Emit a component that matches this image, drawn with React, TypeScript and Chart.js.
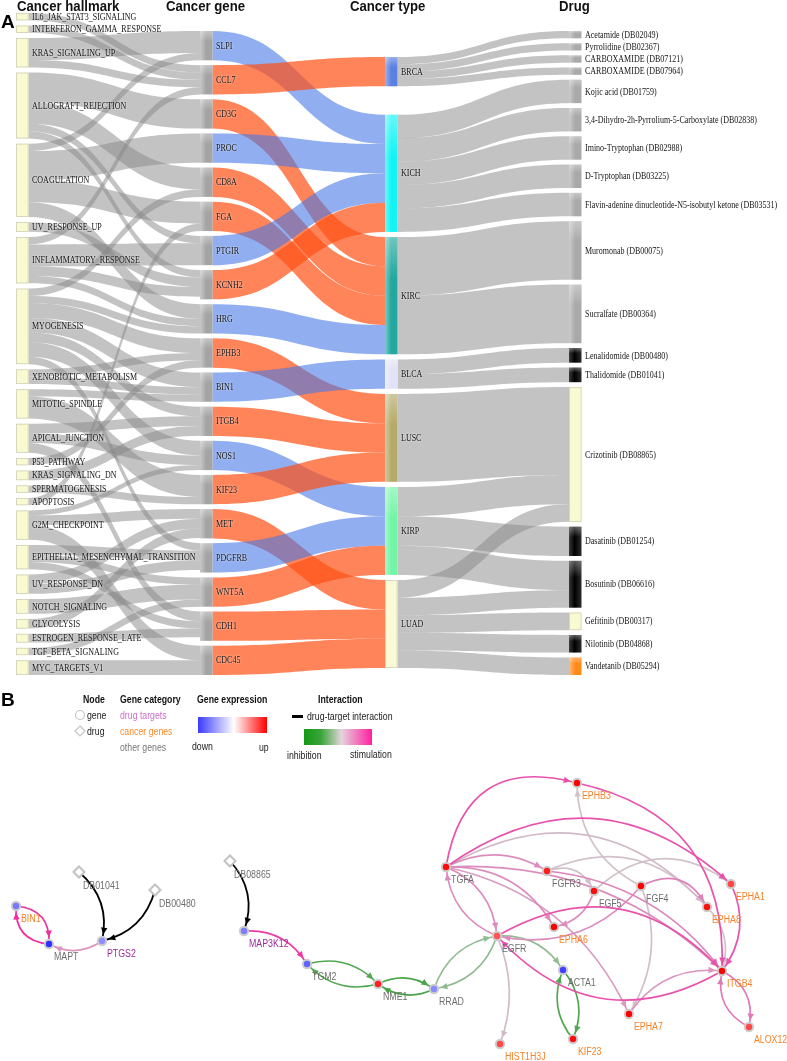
import React, { useEffect, useRef } from 'react';
import { Chart, registerables } from 'chart.js';
Chart.register(...registerables);

const W = 787;
const H = 1061;

// ---------------- Panel A data ----------------
const HALLMARKS = ['IL6_JAK_STAT3_SIGNALING', 'INTERFERON_GAMMA_RESPONSE', 'KRAS_SIGNALING_UP', 'ALLOGRAFT_REJECTION', 'COAGULATION', 'UV_RESPONSE_UP', 'INFLAMMATORY_RESPONSE', 'MYOGENESIS', 'XENOBIOTIC_METABOLISM', 'MITOTIC_SPINDLE', 'APICAL_JUNCTION', 'P53_PATHWAY', 'KRAS_SIGNALING_DN', 'SPERMATOGENESIS', 'APOPTOSIS', 'G2M_CHECKPOINT', 'EPITHELIAL_MESENCHYMAL_TRANSITION', 'UV_RESPONSE_DN', 'NOTCH_SIGNALING', 'GLYCOLYSIS', 'ESTROGEN_RESPONSE_LATE', 'TGF_BETA_SIGNALING', 'MYC_TARGETS_V1'];
const GENES = ['SLPI', 'CCL7', 'CD3G', 'PROC', 'CD8A', 'FGA', 'PTGIR', 'KCNH2', 'HRG', 'EPHB3', 'BIN1', 'ITGB4', 'NOS1', 'KIF23', 'MET', 'PDGFRB', 'WNT5A', 'CDH1', 'CDC45'];
const GENE_REGULATION = ['down', 'up', 'up', 'down', 'up', 'up', 'down', 'up', 'down', 'up', 'down', 'up', 'down', 'up', 'up', 'down', 'up', 'up', 'up'];
const GENE_CANCER_TYPE = ['KICH', 'BRCA', 'KIRC', 'KICH', 'KIRC', 'KIRC', 'KICH', 'KICH', 'KIRC', 'LUSC', 'BLCA', 'LUSC', 'KIRP', 'LUSC', 'LUAD', 'KIRP', 'KIRP', 'LUAD', 'LUAD'];
const CANCER_TYPES = ['BRCA', 'KICH', 'KIRC', 'BLCA', 'LUSC', 'KIRP', 'LUAD'];
const CANCER_TYPE_COLORS = ['#5a80e0', '#12f4f4', '#22a89e', '#e2e2f6', '#b4aa68', '#72f5a6', '#fafad6'];
const DRUGS = ['Acetamide (DB02049)', 'Pyrrolidine (DB02367)', 'CARBOXAMIDE (DB07121)', 'CARBOXAMIDE (DB07964)', 'Kojic acid (DB01759)', '3,4-Dihydro-2h-Pyrrolium-5-Carboxylate (DB02838)', 'Imino-Tryptophan (DB02988)', 'D-Tryptophan (DB03225)', 'Flavin-adenine dinucleotide-N5-isobutyl ketone (DB03531)', 'Muromonab (DB00075)', 'Sucralfate (DB00364)', 'Lenalidomide (DB00480)', 'Thalidomide (DB01041)', 'Crizotinib (DB08865)', 'Dasatinib (DB01254)', 'Bosutinib (DB06616)', 'Gefitinib (DB00317)', 'Nilotinib (DB04868)', 'Vandetanib (DB05294)'];
const DRUG_COLORS = ['#a9a9a9', '#a9a9a9', '#a9a9a9', '#a9a9a9', '#a9a9a9', '#a9a9a9', '#a9a9a9', '#a9a9a9', '#a9a9a9', '#a9a9a9', '#a9a9a9', '#000000', '#000000', '#fafad2', '#000000', '#000000', '#fafad2', '#000000', '#ff8c1a'];

const HALLMARK_GENE_LINKS: [string, string, number][] = [
  ['IL6_JAK_STAT3_SIGNALING', 'CCL7', 0.25],
  ['INTERFERON_GAMMA_RESPONSE', 'CCL7', 0.25],
  ['KRAS_SIGNALING_UP', 'SLPI', 0.75],
  ['KRAS_SIGNALING_UP', 'CCL7', 0.25],
  ['ALLOGRAFT_REJECTION', 'CD3G', 1],
  ['ALLOGRAFT_REJECTION', 'CD8A', 0.75],
  ['ALLOGRAFT_REJECTION', 'PTGIR', 0.25],
  ['ALLOGRAFT_REJECTION', 'KCNH2', 0.25],
  ['COAGULATION', 'SLPI', 0.25],
  ['COAGULATION', 'PROC', 1],
  ['COAGULATION', 'FGA', 0.75],
  ['COAGULATION', 'HRG', 0.5],
  ['UV_RESPONSE_UP', 'KCNH2', 0.33],
  ['INFLAMMATORY_RESPONSE', 'CCL7', 0.25],
  ['INFLAMMATORY_RESPONSE', 'PTGIR', 0.75],
  ['INFLAMMATORY_RESPONSE', 'KCNH2', 0.33],
  ['INFLAMMATORY_RESPONSE', 'HRG', 0.25],
  ['MYOGENESIS', 'CD8A', 0.25],
  ['MYOGENESIS', 'HRG', 0.25],
  ['MYOGENESIS', 'EPHB3', 0.5],
  ['MYOGENESIS', 'BIN1', 0.5],
  ['MYOGENESIS', 'ITGB4', 0.33],
  ['MYOGENESIS', 'NOS1', 0.5],
  ['MYOGENESIS', 'PDGFRB', 0.25],
  ['XENOBIOTIC_METABOLISM', 'EPHB3', 0.25],
  ['XENOBIOTIC_METABOLISM', 'BIN1', 0.25],
  ['MITOTIC_SPINDLE', 'BIN1', 0.25],
  ['MITOTIC_SPINDLE', 'KIF23', 0.75],
  ['APICAL_JUNCTION', 'ITGB4', 0.33],
  ['APICAL_JUNCTION', 'NOS1', 0.33],
  ['APICAL_JUNCTION', 'CDH1', 0.33],
  ['P53_PATHWAY', 'EPHB3', 0.25],
  ['KRAS_SIGNALING_DN', 'ITGB4', 0.33],
  ['SPERMATOGENESIS', 'KIF23', 0.25],
  ['APOPTOSIS', 'FGA', 0.25],
  ['G2M_CHECKPOINT', 'MET', 0.33],
  ['G2M_CHECKPOINT', 'NOS1', 0.17],
  ['G2M_CHECKPOINT', 'CDC45', 0.5],
  ['EPITHELIAL_MESENCHYMAL_TRANSITION', 'PDGFRB', 0.33],
  ['EPITHELIAL_MESENCHYMAL_TRANSITION', 'WNT5A', 0.25],
  ['EPITHELIAL_MESENCHYMAL_TRANSITION', 'CDH1', 0.25],
  ['UV_RESPONSE_DN', 'MET', 0.33],
  ['UV_RESPONSE_DN', 'PDGFRB', 0.33],
  ['NOTCH_SIGNALING', 'WNT5A', 0.5],
  ['GLYCOLYSIS', 'MET', 0.33],
  ['ESTROGEN_RESPONSE_LATE', 'CDH1', 0.3],
  ['TGF_BETA_SIGNALING', 'WNT5A', 0.25],
  ['MYC_TARGETS_V1', 'CDC45', 0.5],
];

const CANCER_DRUG_LINKS: [string, string, number][] = [
  ['BRCA', 'Acetamide (DB02049)', 0.25],
  ['BRCA', 'Pyrrolidine (DB02367)', 0.25],
  ['BRCA', 'CARBOXAMIDE (DB07121)', 0.25],
  ['BRCA', 'CARBOXAMIDE (DB07964)', 0.25],
  ['KICH', 'Kojic acid (DB01759)', 0.8],
  ['KICH', '3,4-Dihydro-2h-Pyrrolium-5-Carboxylate (DB02838)', 0.8],
  ['KICH', 'Imino-Tryptophan (DB02988)', 0.8],
  ['KICH', 'D-Tryptophan (DB03225)', 0.8],
  ['KICH', 'Flavin-adenine dinucleotide-N5-isobutyl ketone (DB03531)', 0.8],
  ['KIRC', 'Muromonab (DB00075)', 2],
  ['KIRC', 'Sucralfate (DB00364)', 2],
  ['BLCA', 'Lenalidomide (DB00480)', 0.5],
  ['BLCA', 'Thalidomide (DB01041)', 0.5],
  ['LUSC', 'Crizotinib (DB08865)', 3],
  ['KIRP', 'Crizotinib (DB08865)', 1],
  ['KIRP', 'Dasatinib (DB01254)', 1],
  ['KIRP', 'Bosutinib (DB06616)', 1],
  ['LUAD', 'Crizotinib (DB08865)', 0.6],
  ['LUAD', 'Bosutinib (DB06616)', 0.6],
  ['LUAD', 'Gefitinib (DB00317)', 0.6],
  ['LUAD', 'Nilotinib (DB04868)', 0.6],
  ['LUAD', 'Vandetanib (DB05294)', 0.6],
];
const COLUMN_TITLES = ['Cancer hallmark', 'Cancer gene', 'Cancer type', 'Drug'];

// ---------------- Panel B data ----------------
const NET_GENES = ['BIN1', 'MAPT', 'PTGS2', 'MAP3K12', 'TGM2', 'NME1', 'RRAD', 'EGFR', 'ACTA1', 'KIF23', 'HIST1H3J', 'TGFA', 'EPHB3', 'FGFR3', 'FGF5', 'FGF4', 'EPHA1', 'EPHA8', 'EPHA6', 'ITGB4', 'EPHA7', 'ALOX12'];
const NET_GENE_X = [16, 49, 102, 244, 307, 378, 434, 497, 563, 573, 500, 446, 577, 547, 594, 641, 731, 707, 554, 722, 629, 749];
const NET_GENE_Y = [906, 944, 941, 931, 964, 984, 989, 936, 970, 1039, 1044, 867, 783, 871, 891, 886, 884, 907, 927, 971, 1014, 1027];
const NET_GENE_EXPRESSION = [-0.6, -0.92, -0.5, -0.58, -0.7, 0.88, -0.52, 0.68, -0.85, 0.95, 0.72, 0.95, 1, 0.88, 0.95, 1, 0.72, 0.95, 1, 1, 1, 0.72];
const NET_GENE_CATEGORY = ['cancer', 'other', 'target', 'target', 'other', 'other', 'other', 'other', 'other', 'cancer', 'cancer', 'other', 'cancer', 'other', 'other', 'other', 'cancer', 'cancer', 'cancer', 'cancer', 'cancer', 'cancer'];
const NET_DRUGS = ['DB01041', 'DB00480', 'DB08865'];
const NET_DRUG_X = [79, 155, 230];
const NET_DRUG_Y = [872, 890, 861];
const DRUG_TARGET_EDGES: [string, string][] = [['DB01041', 'PTGS2'], ['DB00480', 'PTGS2'], ['DB08865', 'MAP3K12']];
// [source, target, effect (-1 inhibition .. +1 stimulation)]
const GENE_EDGES: [string, string, number][] = [
  ['BIN1', 'MAPT', 0.95], ['MAPT', 'BIN1', 0.95], ['PTGS2', 'MAPT', 0.35],
  ['MAP3K12', 'TGM2', 0.9], ['TGM2', 'NME1', -0.7], ['NME1', 'TGM2', -0.7],
  ['NME1', 'RRAD', -0.75], ['RRAD', 'NME1', -0.75], ['RRAD', 'EGFR', -0.35], ['EGFR', 'RRAD', -0.35],
  ['EGFR', 'ACTA1', -0.35], ['ACTA1', 'KIF23', -0.7], ['KIF23', 'ACTA1', -0.7], ['EGFR', 'HIST1H3J', 0.12],
  ['TGFA', 'EGFR', 0.4], ['EGFR', 'TGFA', 0.4], ['TGFA', 'EPHB3', 0.75], ['EPHB3', 'ITGB4', 0.75],
  ['TGFA', 'EPHA1', 0.75], ['TGFA', 'EPHA8', 0.12], ['TGFA', 'FGFR3', 0.4], ['TGFA', 'EPHA6', 0.4],
  ['TGFA', 'EPHA7', 0.3], ['TGFA', 'ITGB4', 0.4], ['FGFR3', 'FGF5', 0.08], ['FGFR3', 'ITGB4', 0.45],
  ['FGFR3', 'EPHA8', 0.08], ['FGF4', 'EPHB3', 0.08], ['FGF4', 'EPHA7', 0.08], ['EPHA7', 'ITGB4', 0.35],
  ['FGF4', 'EGFR', 0.4], ['FGF5', 'EPHA6', 0.4], ['FGF5', 'EPHA1', 0.08], ['FGF4', 'EPHA8', 0.45],
  ['EGFR', 'ITGB4', 0.75], ['ITGB4', 'EGFR', 0.75], ['EPHA1', 'ITGB4', 0.75], ['EPHA8', 'ITGB4', 0.08],
  ['ITGB4', 'ALOX12', 0.5], ['ALOX12', 'ITGB4', 0.5],
];

// ---------------- layout / style constants ----------------
const KY = 29.3;
const COL_X = [16, 200, 385, 569];
const NODE_W = 12.5;
const COL_TOP = [13, 31, 57, 31];
const COL_BOTTOM = [675, 675, 668, 675];
const TYPE_GAP_WEIGHTS = [5.5, 1, 1, 1, 1, 1];
const EDGE_BEND: Record<string, number> = {
  'BIN1>MAPT': -0.48, 'MAPT>BIN1': -0.48, 'PTGS2>MAPT': -0.3,
  'TGFA>EPHB3': -0.55, 'EPHB3>ITGB4': -0.42, 'TGFA>EPHA1': -0.4, 'TGFA>EPHA8': -0.4,
  'TGFA>FGFR3': -0.28, 'FGFR3>EPHA8': -0.37, 'FGF5>EPHA1': -0.42, 'FGF4>EPHA8': -0.5,
  'EGFR>ITGB4': -0.4, 'ITGB4>EGFR': -0.4, 'TGFA>ITGB4': -0.22, 'FGFR3>ITGB4': -0.22,
  'TGFA>EPHA7': -0.25, 'EGFR>HIST1H3J': -0.2, 'FGF4>EPHA7': -0.25, 'FGFR3>FGF5': -0.45,
  'ACTA1>KIF23': -0.3, 'KIF23>ACTA1': -0.3, 'ITGB4>ALOX12': -0.38, 'ALOX12>ITGB4': -0.38,
};

const SANS = '"Liberation Sans", Arial, sans-serif';
const SERIF = '"Liberation Serif", "Times New Roman", serif';

type RGB = [number, number, number];
function hexRgb(h: string): RGB {
  const s = h.replace('#', '');
  return [parseInt(s.slice(0, 2), 16), parseInt(s.slice(2, 4), 16), parseInt(s.slice(4, 6), 16)];
}
function mixRgb(a: RGB, b: RGB, f: number) {
  return `rgb(${Math.round(a[0] + (b[0] - a[0]) * f)},${Math.round(a[1] + (b[1] - a[1]) * f)},${Math.round(a[2] + (b[2] - a[2]) * f)})`;
}
function lighten(h: string, f: number) { return mixRgb(hexRgb(h), [255, 255, 255], f); }
function exprColor(v: number) {
  return v >= 0 ? mixRgb([255, 255, 255], [255, 0, 0], v) : mixRgb([255, 255, 255], [30, 30, 255], -v);
}
function effectColor(v: number) {
  return v >= 0 ? mixRgb([206, 206, 206], [240, 40, 160], v) : mixRgb([206, 206, 206], [30, 150, 30], -v);
}

// ---------------- sankey layout (data units) ----------------
type SNode = { key: string; name: string; col: number; x0: number; x1: number; y0: number; y1: number; value: number; ins: SLink[]; outs: SLink[]; color: string };
type SLink = { s: SNode; t: SNode; v: number; sy: number; ty: number; color: string };

function buildSankey() {
  const nodes: Record<string, SNode> = {};
  const cols: SNode[][] = [[], [], [], []];
  const add = (col: number, name: string, color: string) => {
    const n: SNode = { key: col + ':' + name, name, col, x0: COL_X[col], x1: COL_X[col] + NODE_W, y0: 0, y1: 0, value: 0, ins: [], outs: [], color };
    nodes[n.key] = n; cols[col].push(n);
  };
  HALLMARKS.forEach((h) => add(0, h, '#fafad2'));
  GENES.forEach((g) => add(1, g, '#a4a4a4'));
  CANCER_TYPES.forEach((c, i) => add(2, c, CANCER_TYPE_COLORS[i]));
  DRUGS.forEach((d, i) => add(3, d, DRUG_COLORS[i]));
  const links: SLink[] = [];
  const link = (a: string, b: string, v: number, color: string) => {
    const l: SLink = { s: nodes[a], t: nodes[b], v, sy: 0, ty: 0, color };
    l.s.outs.push(l); l.t.ins.push(l); links.push(l);
  };
  HALLMARK_GENE_LINKS.forEach(([h, g, v]) => link('0:' + h, '1:' + g, v, 'rgba(136,136,136,0.5)'));
  GENES.forEach((g, i) => link('1:' + g, '2:' + GENE_CANCER_TYPE[i], 1, GENE_REGULATION[i] === 'up' ? 'rgba(255,80,20,0.7)' : 'rgba(70,120,230,0.6)'));
  CANCER_DRUG_LINKS.forEach(([c, d, v]) => link('2:' + c, '3:' + d, v, 'rgba(136,136,136,0.5)'));
  Object.values(nodes).forEach((n) => {
    const si = n.ins.reduce((a, l) => a + l.v, 0);
    const so = n.outs.reduce((a, l) => a + l.v, 0);
    n.value = Math.max(si, so);
  });
  cols.forEach((col, c) => {
    const total = col.reduce((a, n) => a + n.value * KY, 0);
    const gaps = col.length - 1;
    const weights = c === 2 ? TYPE_GAP_WEIGHTS : new Array(gaps).fill(1);
    const wsum = weights.reduce((a: number, b: number) => a + b, 0);
    const gapTotal = COL_BOTTOM[c] - COL_TOP[c] - total;
    let y = COL_TOP[c];
    col.forEach((n, i) => {
      n.y0 = y; n.y1 = y + n.value * KY;
      y = n.y1 + (i < gaps ? (gapTotal * weights[i]) / wsum : 0);
    });
  });
  Object.values(nodes).forEach((n) => {
    let y = n.y0;
    [...n.outs].sort((a, b) => a.t.y0 - b.t.y0).forEach((l) => { l.sy = y; y += l.v * KY; });
    y = n.y0;
    [...n.ins].sort((a, b) => a.s.y0 - b.s.y0).forEach((l) => { l.ty = y; y += l.v * KY; });
  });
  return { nodes: Object.values(nodes), links };
}
const SANKEY = buildSankey();

function drawText(ctx: CanvasRenderingContext2D, s: string, x: number, y: number, font: string, color: string, sx = 1, baseline: CanvasTextBaseline = 'alphabetic') {
  ctx.save();
  ctx.font = font; ctx.fillStyle = color; ctx.textAlign = 'left'; ctx.textBaseline = baseline;
  ctx.translate(x, y); ctx.scale(sx, 1);
  ctx.fillText(s, 0, 0);
  ctx.restore();
}

const sankeyPlugin = {
  id: 'sankeyA',
  beforeDatasetsDraw(chart: any) {
    const ctx: CanvasRenderingContext2D = chart.ctx;
    const X = (v: number) => chart.scales.x.getPixelForValue(v);
    const Y = (v: number) => chart.scales.y.getPixelForValue(v);
    ctx.save();
    for (const l of SANKEY.links) {
      const x0 = X(l.s.x1), x1 = X(l.t.x0), xm = (x0 + x1) / 2;
      const a0 = Y(l.sy), a1 = Y(l.sy + l.v * KY), b0 = Y(l.ty), b1 = Y(l.ty + l.v * KY);
      ctx.beginPath();
      ctx.moveTo(x0, a0);
      ctx.bezierCurveTo(xm, a0, xm, b0, x1, b0);
      ctx.lineTo(x1, b1);
      ctx.bezierCurveTo(xm, b1, xm, a1, x0, a1);
      ctx.closePath();
      ctx.fillStyle = l.color;
      ctx.fill();
    }
    for (const n of SANKEY.nodes) {
      const x0 = X(n.x0), x1 = X(n.x1), y0 = Y(n.y0), y1 = Y(n.y1);
      const yellow = n.color === '#fafad2' || n.color === '#fafad6';
      if (yellow) {
        ctx.fillStyle = n.color;
        ctx.fillRect(x0, y0, x1 - x0, y1 - y0);
        ctx.strokeStyle = '#cfcfb8'; ctx.lineWidth = 0.8;
        ctx.strokeRect(x0 + 0.4, y0 + 0.4, x1 - x0 - 0.8, y1 - y0 - 0.8);
      } else {
        const g = ctx.createLinearGradient(x0, 0, x1, 0);
        if (n.color === '#000000') {
          g.addColorStop(0, '#3a3a3a'); g.addColorStop(0.45, '#000'); g.addColorStop(1, '#2c2c2c');
        } else {
          g.addColorStop(0, lighten(n.color, 0.4)); g.addColorStop(0.5, n.color); g.addColorStop(1, n.color);
        }
        ctx.fillStyle = g;
        ctx.fillRect(x0, y0, x1 - x0, y1 - y0);
        const vg = ctx.createLinearGradient(0, y0, 0, y1);
        vg.addColorStop(0, 'rgba(255,255,255,0.35)'); vg.addColorStop(0.35, 'rgba(255,255,255,0)'); vg.addColorStop(1, 'rgba(255,255,255,0)');
        ctx.fillStyle = vg;
        ctx.fillRect(x0, y0, x1 - x0, y1 - y0);
      }
    }
    ctx.shadowColor = 'rgba(255,255,255,0.85)';
    ctx.shadowBlur = 2;
    for (const n of SANKEY.nodes) {
      drawText(ctx, n.name, X(n.x1) + 3.5, Y((n.y0 + n.y1) / 2) + 0.5, `10px ${SERIF}`, '#151515', 0.8, 'middle');
    }
    ctx.shadowBlur = 0;
    const titleX = [17, 166, 350, 559];
    COLUMN_TITLES.forEach((t, i) => drawText(ctx, t, titleX[i], 10.5, `bold 14px ${SANS}`, '#111', 0.94));
    drawText(ctx, 'A', 1, 27.5, `bold 19px ${SANS}`, '#000', 1);
    ctx.restore();
  },
};

function netPos(name: string) {
  const i = NET_GENES.indexOf(name);
  if (i >= 0) return { x: NET_GENE_X[i], y: NET_GENE_Y[i] };
  const j = NET_DRUGS.indexOf(name);
  return { x: NET_DRUG_X[j], y: NET_DRUG_Y[j] };
}

function drawArrowEdge(ctx: CanvasRenderingContext2D, p0: any, p1: any, bend: number, color: string, width: number) {
  const dx = p1.x - p0.x, dy = p1.y - p0.y;
  const c = { x: (p0.x + p1.x) / 2 - bend * dy, y: (p0.y + p1.y) / 2 + bend * dx };
  ctx.strokeStyle = color; ctx.fillStyle = color; ctx.lineWidth = width;
  const bez = (t: number) => ({ x: (1 - t) * (1 - t) * p0.x + 2 * (1 - t) * t * c.x + t * t * p1.x, y: (1 - t) * (1 - t) * p0.y + 2 * (1 - t) * t * c.y + t * t * p1.y });
  let lo = 0.2, hi = 1;
  for (let k = 0; k < 30; k++) {
    const m = (lo + hi) / 2; const q = bez(m);
    if (Math.hypot(q.x - p1.x, q.y - p1.y) > 6.5) lo = m; else hi = m;
  }
  const t = lo; const tip = bez(t);
  let tx = 2 * (1 - t) * (c.x - p0.x) + 2 * t * (p1.x - c.x);
  let ty = 2 * (1 - t) * (c.y - p0.y) + 2 * t * (p1.y - c.y);
  const L = Math.hypot(tx, ty) || 1; tx /= L; ty /= L;
  const len = 7, half = 3.2;
  const bx = tip.x - tx * len, by = tip.y - ty * len;
  ctx.beginPath();
  ctx.moveTo(p0.x, p0.y);
  ctx.quadraticCurveTo(c.x, c.y, p1.x, p1.y);
  ctx.stroke();
  ctx.beginPath();
  ctx.moveTo(tip.x, tip.y);
  ctx.lineTo(bx - ty * half, by + tx * half);
  ctx.lineTo(bx + ty * half, by - tx * half);
  ctx.closePath();
  ctx.fill();
}

const networkPlugin = {
  id: 'networkB',
  beforeDatasetsDraw(chart: any) {
    const ctx: CanvasRenderingContext2D = chart.ctx;
    const X = (v: number) => chart.scales.x.getPixelForValue(v);
    const Y = (v: number) => chart.scales.y.getPixelForValue(v);
    const P = (name: string) => { const p = netPos(name); return { x: X(p.x), y: Y(p.y) }; };
    ctx.save();
    const edges = [...GENE_EDGES].sort((a, b) => Math.abs(a[2]) - Math.abs(b[2]));
    for (const [s, t, v] of edges) {
      const bend = EDGE_BEND[s + '>' + t] ?? -0.3;
      drawArrowEdge(ctx, P(s), P(t), bend, effectColor(v), 1.7);
    }
    for (const [s, t] of DRUG_TARGET_EDGES) {
      drawArrowEdge(ctx, P(s), P(t), -0.3, '#000', 1.8);
    }
    ctx.restore();
  },
  afterDatasetsDraw(chart: any) {
    const ctx: CanvasRenderingContext2D = chart.ctx;
    const X = (v: number) => chart.scales.x.getPixelForValue(v);
    const Y = (v: number) => chart.scales.y.getPixelForValue(v);
    ctx.save();
    const catColor: Record<string, string> = { cancer: '#f5832a', target: '#9c2a9c', other: '#6e6e6e' };
    NET_GENES.forEach((g, i) => drawText(ctx, g, X(NET_GENE_X[i]) + 5, Y(NET_GENE_Y[i]) + 13.5, `10px ${SANS}`, catColor[NET_GENE_CATEGORY[i]], 0.88, 'middle'));
    NET_DRUGS.forEach((d, i) => drawText(ctx, d, X(NET_DRUG_X[i]) + 4, Y(NET_DRUG_Y[i]) + 14, `10px ${SANS}`, '#6e6e6e', 0.88, 'middle'));

    // legend
    drawText(ctx, 'B', 1, 706, `bold 19px ${SANS}`, '#000', 1);
    const bold = `bold 11.5px ${SANS}`;
    const reg = `11.5px ${SANS}`;
    const sx = 0.76;
    drawText(ctx, 'Node', 83, 703, bold, '#111', sx);
    ctx.strokeStyle = '#c4c4c4'; ctx.lineWidth = 1.2;
    ctx.beginPath(); ctx.arc(80, 715, 4.5, 0, Math.PI * 2); ctx.stroke();
    ctx.beginPath(); ctx.moveTo(80, 726); ctx.lineTo(85, 731); ctx.lineTo(80, 736); ctx.lineTo(75, 731); ctx.closePath(); ctx.stroke();
    drawText(ctx, 'gene', 87, 719, reg, '#222', sx);
    drawText(ctx, 'drug', 87, 735, reg, '#222', sx);
    drawText(ctx, 'Gene category', 120, 703, bold, '#111', sx);
    drawText(ctx, 'drug targets', 120, 719, reg, '#cc6fcc', sx);
    drawText(ctx, 'cancer genes', 120, 735, reg, '#ff8a2a', sx);
    drawText(ctx, 'other genes', 120, 751, reg, '#777', sx);
    drawText(ctx, 'Gene expression', 197, 703, bold, '#111', sx);
    const g1 = ctx.createLinearGradient(198, 0, 267, 0);
    g1.addColorStop(0, '#3a3aff'); g1.addColorStop(0.52, '#ffffff'); g1.addColorStop(1, '#ff0000');
    ctx.fillStyle = g1; ctx.fillRect(198, 717, 69, 16);
    drawText(ctx, 'down', 192, 750, reg, '#222', sx);
    drawText(ctx, 'up', 259, 751, reg, '#222', sx);
    drawText(ctx, 'Interaction', 318, 703, bold, '#111', sx);
    ctx.fillStyle = '#000'; ctx.fillRect(292, 715, 11, 3);
    drawText(ctx, 'drug-target interaction', 307, 720, reg, '#222', sx);
    const g2 = ctx.createLinearGradient(304, 0, 372, 0);
    g2.addColorStop(0, '#149a14'); g2.addColorStop(0.25, '#3aa53a'); g2.addColorStop(0.55, '#e4d4dc'); g2.addColorStop(1, '#ff1f9f');
    ctx.fillStyle = g2; ctx.fillRect(304, 729, 68, 16);
    drawText(ctx, 'inhibition', 287, 759, reg, '#222', sx);
    drawText(ctx, 'stimulation', 350, 758, reg, '#222', sx);
    ctx.restore();
  },
};

export default function App() {
  const ref = useRef<HTMLCanvasElement | null>(null);
  useEffect(() => {
    document.body.style.margin = '0';
    document.body.style.overflow = 'hidden';
    const canvas = ref.current;
    if (!canvas) return;
    const chart = new Chart(canvas, {
      type: 'scatter',
      data: {
        datasets: [
          {
            label: 'genes',
            data: NET_GENES.map((_, i) => ({ x: NET_GENE_X[i], y: NET_GENE_Y[i] })),
            pointStyle: 'circle',
            pointRadius: 4.2,
            pointBorderWidth: 2,
            pointBackgroundColor: NET_GENE_EXPRESSION.map(exprColor),
            pointBorderColor: '#cdcdcd',
          },
          {
            label: 'drugs',
            data: NET_DRUGS.map((_, i) => ({ x: NET_DRUG_X[i], y: NET_DRUG_Y[i] })),
            pointStyle: 'rectRot',
            pointRadius: 5.5,
            pointBorderWidth: 2,
            pointBackgroundColor: '#ffffff',
            pointBorderColor: '#c2c2c2',
          },
        ],
      } as any,
      options: {
        responsive: false,
        animation: false,
        devicePixelRatio: 1,
        events: [],
        layout: { padding: 0, autoPadding: false },
        scales: {
          x: { type: 'linear', min: 0, max: W, display: false },
          y: { type: 'linear', min: 0, max: H, reverse: true, display: false },
        },
        plugins: { legend: { display: false }, tooltip: { enabled: false } },
      } as any,
      plugins: [sankeyPlugin, networkPlugin],
    });
    return () => chart.destroy();
  }, []);
  return <canvas ref={ref} width={W} height={H} style={{ display: 'block', width: W, height: H }} />;
}
